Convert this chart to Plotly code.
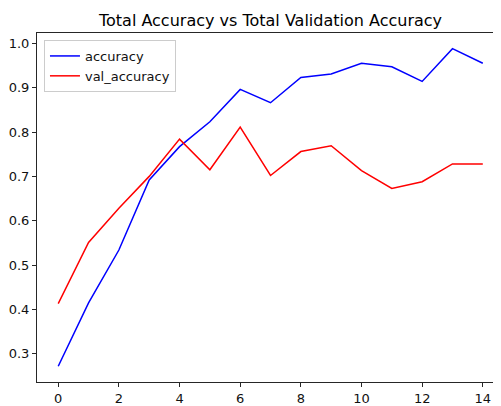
import plotly.graph_objects as go

epochs = list(range(15))
accuracy = [0.272, 0.415, 0.534, 0.692, 0.767, 0.823, 0.896, 0.866, 0.923, 0.931, 0.955, 0.947, 0.914, 0.988, 0.955]
val_accuracy = [0.413, 0.551, 0.628, 0.700, 0.784, 0.715, 0.811, 0.702, 0.756, 0.769, 0.713, 0.673, 0.688, 0.728, 0.728]
x_ticks = [0, 2, 4, 6, 8, 10, 12, 14]
y_ticks = [0.3, 0.4, 0.5, 0.6, 0.7, 0.8, 0.9, 1.0]

fig = go.Figure()
fig.add_trace(go.Scatter(x=epochs, y=accuracy, mode="lines", name="accuracy",
                         line=dict(color="blue", width=1.5)))
fig.add_trace(go.Scatter(x=epochs, y=val_accuracy, mode="lines", name="val_accuracy",
                         line=dict(color="red", width=1.5)))

font = "DejaVu Sans, sans-serif"
W, H = 493, 398
fig.update_layout(
    width=W, height=H,
    margin=dict(l=29, r=0, t=25, b=24),
    paper_bgcolor="white", plot_bgcolor="white",
    font=dict(family=font, size=13, color="#111111"),
    title=dict(text="Total Accuracy vs Total Validation Accuracy", x=(270.5 - 8) / W, xanchor="center",
               y=1 - 12 / H, yanchor="middle", font=dict(size=16, color="#000000")),
    showlegend=True,
    legend=dict(x=0.015, y=0.98, xanchor="left", yanchor="top",
                bgcolor="rgba(255,255,255,0.8)", bordercolor="#cccccc", borderwidth=1,
                font=dict(size=13, color="#111111")),
)
fig.update_xaxes(range=[-0.7, 14.6], tickvals=x_ticks, ticktext=[str(v) for v in x_ticks],
                 showgrid=False, zeroline=False, showline=True, linecolor="#262626", linewidth=1,
                 mirror=True, ticks="outside", ticklen=4, tickcolor="#262626")
fig.update_yaxes(range=[0.2365, 1.0232], tickvals=y_ticks, ticktext=[f"{v:.1f}" for v in y_ticks],
                 showgrid=False, zeroline=False, showline=True, linecolor="#262626", linewidth=1,
                 ticks="outside", ticklen=4, tickcolor="#262626")

fig.write_html("out.html")
